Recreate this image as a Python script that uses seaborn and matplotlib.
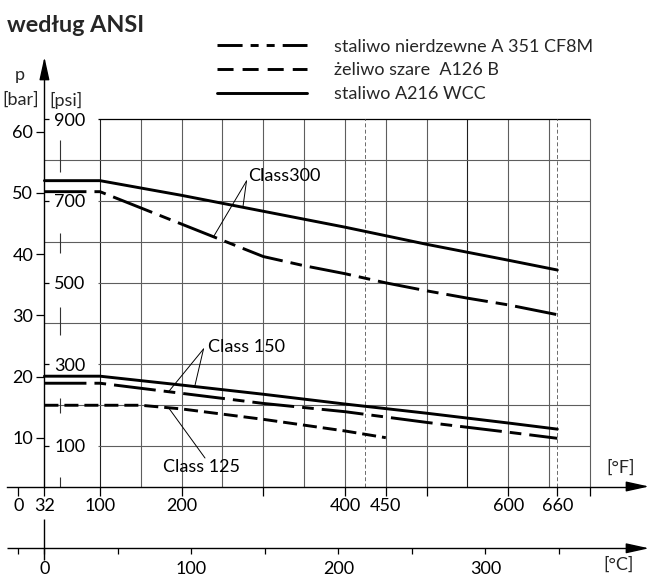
import numpy as np
import pandas as pd
import matplotlib
matplotlib.use("Agg")
import matplotlib.pyplot as plt
import seaborn as sns

# ---------------- data (temperature °F, pressure bar) ----------------
materials = ["staliwo nierdzewne A 351 CF8M", "żeliwo szare  A126 B", "staliwo A216 WCC"]

cf8m_300_temp = [32, 100, 300, 350, 400, 450, 500, 550, 600, 660]
cf8m_300_p = [50.2, 50.2, 39.6, 38.1, 36.8, 35.3, 34.0, 32.8, 31.7, 30.1]
wcc_300_temp = [32, 100, 200, 300, 400, 500, 600, 660]
wcc_300_p = [52.0, 52.0, 49.6, 47.0, 44.4, 41.6, 39.0, 37.4]
wcc_150_temp = [32, 100, 200, 300, 400, 500, 600, 660]
wcc_150_p = [20.05, 20.05, 18.6, 17.1, 15.5, 14.0, 12.4, 11.4]
cf8m_150_temp = [32, 100, 200, 300, 400, 500, 600, 660]
cf8m_150_p = [18.9, 18.9, 17.25, 15.6, 14.25, 12.5, 10.9, 9.9]
a126_125_temp = [32, 150, 200, 300, 400, 450]
a126_125_p = [15.3, 15.3, 14.7, 13.0, 11.1, 10.0]

f_ticks = [0, 32, 100, 200, 300, 400, 450, 500, 600, 660, 700]
f_ticklabels = ["0", "32", "100", "200", "", "400", "450", "", "600", "660", ""]
c_ticks = [0, 50, 100, 150, 200, 250, 300, 350]
c_ticklabels = ["0", "", "100", "", "200", "", "300", ""]
bar_ticks = [10, 20, 30, 40, 50, 60]
psi_label_ticks = [100, 300, 500, 700, 900]
psi_grid = [100, 200, 300, 400, 500, 600, 700, 800, 900]
f_grid = [100, 150, 200, 250, 300, 350, 400, 450, 500, 550, 600, 650, 700]
f_dashed = [425, 660]
psi_marks = [(772, 849), (572, 621), (371, 441), (181, 217), (0, 24)]

# ---------------- layout helpers (pixel -> data) ----------------
W, H = 650, 579
PX_PER_F, X0_PX = 0.8167, 18.3       # 0 °F at x = 18.3 px
PX_PER_PSI, Y0_PX = 0.408, 486.5     # 0 psi at y = 486.5 px (from top)
PX_PER_BAR, YB0_PX = 6.12, 498.9     # 0 bar at y = 498.9 px


def f_of_px(px):
    return (px - X0_PX) / PX_PER_F


def psi_of_py(py):
    return (Y0_PX - py) / PX_PER_PSI


def bar_of_py(py):
    return (YB0_PX - py) / PX_PER_BAR


def f2c(f):
    return (np.asarray(f, dtype=float) - 32.0) * 5.0 / 9.0


def c2f(c):
    return np.asarray(c, dtype=float) * 9.0 / 5.0 + 32.0


sns.set_theme(style="white")
plt.rcParams["font.family"] = ["Lato", "DejaVu Sans"]
plt.rcParams["axes.unicode_minus"] = False

TICK_FS = 13
TEXT_FS = 13
GRID_C = "#5e5e5e"
AX_X = 32  # temperature where the pressure axis stands

fig = plt.figure(figsize=(6.5, 5.79), dpi=100)
ax = fig.add_axes([0, 0, 1, 1])      # x: °F, y: psi
ax.set_facecolor("white")
axb = ax.twinx()                      # y: bar

# ---------------- data lines via seaborn ----------------
rows = []
for cls, mat, ts, ps in [
    ("300", materials[0], cf8m_300_temp, cf8m_300_p),
    ("300", materials[2], wcc_300_temp, wcc_300_p),
    ("150", materials[2], wcc_150_temp, wcc_150_p),
    ("150", materials[0], cf8m_150_temp, cf8m_150_p),
    ("125", materials[1], a126_125_temp, a126_125_p),
]:
    for t, p in zip(ts, ps):
        rows.append({"temp": t, "p": p, "material": mat, "cls": cls + mat})
df = pd.DataFrame(rows)

LW = 2.1
dash_map = {
    materials[0]: (14.4, 2.75, 4.0, 2.75),
    materials[1]: (4.8, 2.05),
    materials[2]: "",
}
sns.lineplot(
    data=df, x="temp", y="p", hue="material", style="material",
    units="cls", estimator=None, sort=False,
    hue_order=materials, style_order=materials,
    palette={m: "black" for m in materials}, dashes=dash_map,
    linewidth=LW, ax=axb, zorder=5,
)
axb.set_xlabel("")
axb.set_ylabel("")

# ---------------- limits ----------------
ax.set_xlim(f_of_px(0), f_of_px(W))
ax.set_ylim(psi_of_py(H), psi_of_py(0))
axb.set_ylim(bar_of_py(H), bar_of_py(0))

# ---------------- grid ----------------
for f in f_grid:
    dark = f in (100, 550)
    ax.vlines(f, 0, 900, colors="#1e1e1e" if dark else GRID_C,
              lw=0.8, zorder=1)
odd_start = AX_X + 53.4 / PX_PER_F
for psi in psi_grid:
    start = odd_start if psi in psi_label_ticks else AX_X
    ax.hlines(psi, start, 700, colors="black" if psi == 900 else GRID_C,
              lw=0.9 if psi == 900 else 0.8, zorder=1)
ax.vlines(f_dashed, 0, 900, colors="#6a6a6a", lw=0.7,
          linestyles=(0, (4, 2.5)), zorder=1)
mark_x = AX_X + 15.7 / PX_PER_F
for lo, hi in psi_marks:
    ax.vlines(mark_x, lo, hi, colors="#333333", lw=0.8, zorder=1)

# ---------------- spines / axes ----------------
for s in ["top", "right"]:
    ax.spines[s].set_visible(False)
ax.spines["left"].set_position(("data", AX_X))
ax.spines["left"].set_bounds(0, psi_of_py(76))
ax.spines["bottom"].set_position(("data", 0))
ax.spines["bottom"].set_bounds(f_of_px(7), f_of_px(633))
for s in ["left", "bottom"]:
    ax.spines[s].set_color("black")
    ax.spines[s].set_linewidth(1.0)
for s in axb.spines.values():
    s.set_visible(False)

# F ticks
ax.set_xticks(f_ticks, labels=f_ticklabels)
ax.tick_params(axis="x", direction="out", length=6.5, width=0.9, pad=1.5,
               labelsize=TICK_FS, bottom=True, top=False, colors="black")

# psi ticks: on a (hidden) right spine moved onto the pressure axis
ax.spines["right"].set_position(("data", AX_X))
ax.yaxis.set_ticks_position("right")
ax.set_yticks(psi_label_ticks)
ax.tick_params(axis="y", direction="out", length=3.5, width=0.9, pad=3.5,
               labelsize=TICK_FS, right=True, labelright=True,
               left=False, labelleft=False, colors="black")

# bar ticks
axb.spines["left"].set_position(("data", AX_X))
axb.yaxis.set_ticks_position("left")
axb.set_yticks(bar_ticks)
axb.tick_params(axis="y", direction="out", length=5.5, width=0.9, pad=2.5,
                labelsize=TICK_FS, left=True, labelleft=True,
                right=False, labelright=False, colors="black")

# °C axis
c_y_frac = (H - 548.3) / H
secx = ax.secondary_xaxis(c_y_frac, functions=(f2c, c2f))
secx.set_xticks([float(f2c(0))] + c_ticks, labels=[""] + c_ticklabels)
secx.tick_params(axis="x", direction="out", length=4.5, width=0.9, pad=5,
                 labelsize=TICK_FS, colors="black")
for s in secx.spines.values():
    s.set_visible(False)
psi_c = psi_of_py(548.3)
ax.hlines(psi_c, f_of_px(7), f_of_px(633), colors="black", lw=1.0)
ax.vlines(AX_X, psi_of_py(560), psi_of_py(519), colors="black", lw=1.0)

# arrows
arrow_kw = dict(arrowstyle="-|>,head_length=1.0,head_width=0.22", mutation_scale=14,
                color="black", lw=1.0, shrinkA=0, shrinkB=0)
ax.annotate("", xy=(AX_X, psi_of_py(57)), xytext=(AX_X, psi_of_py(78)), arrowprops=arrow_kw)
ax.annotate("", xy=(f_of_px(649), 0), xytext=(f_of_px(630), 0), arrowprops=arrow_kw)
ax.annotate("", xy=(f_of_px(649), psi_c), xytext=(f_of_px(630), psi_c), arrowprops=arrow_kw)

# ---------------- class labels with leader lines ----------------
lead_kw = dict(arrowstyle="-", color="black", lw=0.7, shrinkA=0, shrinkB=0)
series = {
    "wcc300": (wcc_300_temp, wcc_300_p), "cf8m300": (cf8m_300_temp, cf8m_300_p),
    "wcc150": (wcc_150_temp, wcc_150_p), "cf8m150": (cf8m_150_temp, cf8m_150_p),
    "a126": (a126_125_temp, a126_125_p),
}
labels_spec = [
    ("Class300", (248, 176), (246.5, 181), [("wcc300", 275), ("cf8m300", 239)]),
    ("Class 150", (208, 346.7), (203.5, 349), [("cf8m150", 184), ("wcc150", 216)]),
    ("Class 125", (163, 466.7), (205, 458), [("a126", 184)]),
]
for txt, (tx, ty), (sx, sy), targets in labels_spec:
    axb.text(f_of_px(tx), bar_of_py(ty), txt, ha="left", va="center",
             fontsize=TEXT_FS, color="black", zorder=6)
    for key, tf in targets:
        ts, ps = series[key]
        axb.annotate("", xy=(tf, np.interp(tf, ts, ps)),
                     xytext=(f_of_px(sx), bar_of_py(sy)), arrowprops=lead_kw, zorder=6)

# ---------------- texts ----------------
def ftext(px, py, s, **kw):
    fig.text(px / W, 1 - py / H, s, **kw)


ftext(7, 32, "według ANSI", fontsize=16.8, fontweight="bold", va="baseline", ha="left")
ftext(20, 75, "p", fontsize=TICK_FS, ha="center", va="center")
ftext(2, 100, "[bar]", fontsize=TICK_FS, ha="left", va="center")
ftext(49, 100, "[psi]", fontsize=TICK_FS, ha="left", va="center")
ftext(606, 468, "[°F]", fontsize=TICK_FS, ha="left", va="center")
ftext(603, 565, "[°C]", fontsize=TICK_FS, ha="left", va="center")

# ---------------- legend ----------------
leg = axb.get_legend()
handles = list(leg.legend_handles)
labels = [t.get_text() for t in leg.get_texts()]
leg.remove()
leg_dashes = {materials[0]: (8.6, 2.75, 2.75, 2.75, 2.75, 2.75), materials[1]: (5.5, 3.1)}
for h, lab in zip(handles, labels):
    h.set_color("black")
    h.set_linewidth(LW)
    if lab in leg_dashes:
        h.set_dashes(leg_dashes[lab])
axb.legend(handles, labels, loc="upper left", bbox_to_anchor=(217 / W, 1 - 38.5 / H),
           bbox_transform=fig.transFigure, frameon=False, fontsize=TEXT_FS,
           handlelength=5.0, handletextpad=1.5, labelspacing=0.43,
           borderpad=0, borderaxespad=0)

fig.savefig("out.png", dpi=100, facecolor="white")
